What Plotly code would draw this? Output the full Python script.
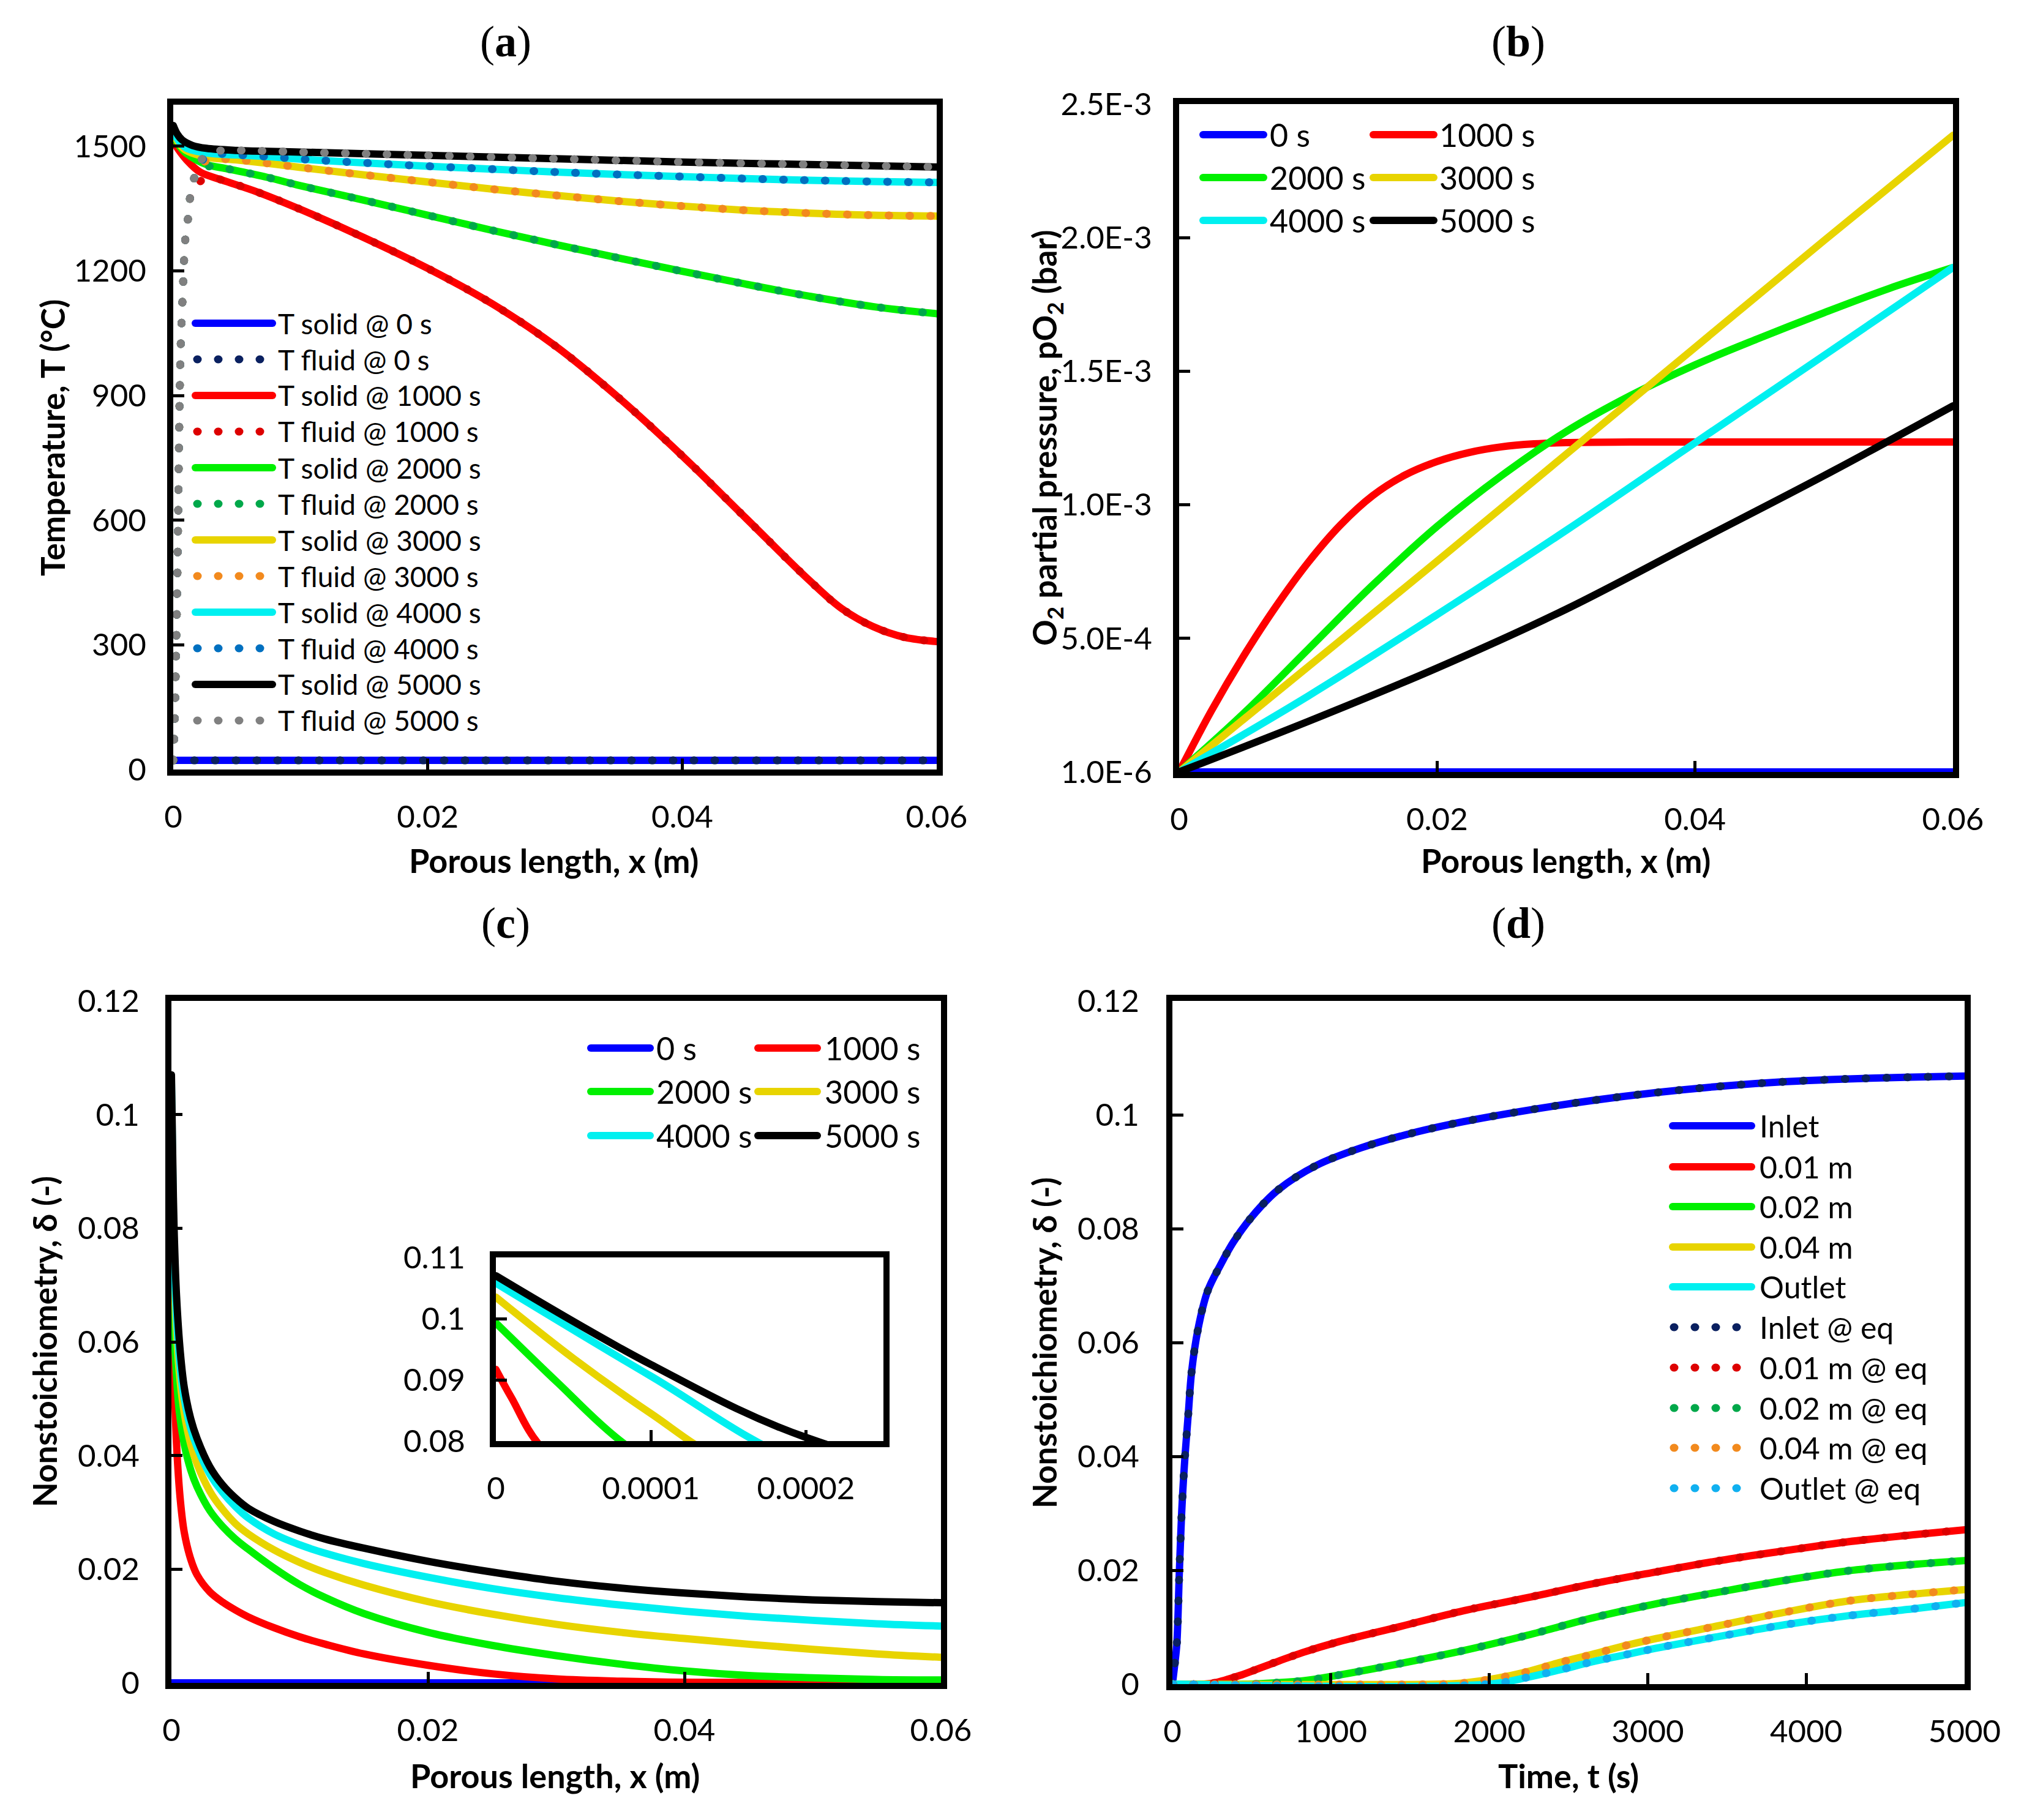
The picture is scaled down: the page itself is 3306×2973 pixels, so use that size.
import plotly.graph_objects as go

W, H = 3306, 2973

# ---------------- (a) temperature along the porous length ----------------
a_x_s0 = [0, 0.06]
a_T_s0 = [22, 22]
a_x_s1000 = [0, 0.0005, 0.00105, 0.0021, 0.0038, 0.0066, 0.01, 0.015, 0.02, 0.025, 0.03,
             0.035, 0.04, 0.045, 0.05, 0.0525, 0.055, 0.0575, 0.06]
a_T_s1000 = [1511, 1488, 1467, 1438, 1419, 1390, 1348, 1280, 1206, 1122, 1020,
             895, 755, 605, 455, 388, 344, 318, 308]
a_x_s2000 = [0, 0.0005, 0.00105, 0.0026, 0.0042, 0.0074, 0.01, 0.015, 0.02, 0.025, 0.03,
             0.035, 0.04, 0.045, 0.05, 0.055, 0.06]
a_T_s2000 = [1526, 1500, 1482, 1456, 1446, 1425, 1405, 1370, 1334, 1298, 1264,
             1231, 1199, 1168, 1139, 1114, 1097]
a_x_s34 = [0, 0.0005, 0.001, 0.0026, 0.005, 0.0074, 0.01, 0.015, 0.02, 0.025, 0.03,
           0.035, 0.04, 0.045, 0.05, 0.055, 0.06]
a_T_s3000 = [1530, 1505, 1490, 1474, 1467, 1459, 1449, 1431, 1414, 1397, 1382,
             1368, 1356, 1346, 1339, 1334, 1332]
a_T_s4000 = [1535, 1510, 1496, 1484, 1479, 1475, 1469, 1460, 1452, 1445, 1438,
             1432, 1427, 1422, 1418, 1415, 1413]
a_x_s5000 = [0, 0.0003, 0.0007, 0.0015, 0.0026, 0.005, 0.01, 0.02, 0.03, 0.04, 0.05, 0.06]
a_T_s5000 = [1550, 1530, 1515, 1502, 1495, 1490, 1486, 1478, 1470, 1462, 1456, 1450]

# fluid heats up from the inlet temperature in the first millimetre, then follows the solid
a_x_rise = [0, 0.0001, 0.0002, 0.0003, 0.00038, 0.00045, 0.00057, 0.00075, 0.00095, 0.00115, 0.0013]
a_T_rise = [22, 100, 250, 420, 600, 780, 1000, 1150, 1277, 1324, 1372]
a_x_j1000, a_T_j1000 = [0.0016, 0.0021, 0.003], [1395, 1415, 1425]
a_x_j2000, a_T_j2000 = [0.0016, 0.0021, 0.003], [1419, 1445, 1452]
a_x_j3000, a_T_j3000 = [0.0016, 0.0021, 0.003], [1419, 1455, 1468]
a_x_j4000, a_T_j4000 = [0.0016, 0.0021, 0.003], [1419, 1460, 1480]
a_x_j5000, a_T_j5000 = [0.0016, 0.0021, 0.0028, 0.0034], [1419, 1464, 1480, 1488]

# ---------------- (b) O2 partial pressure ----------------
b_x_0 = [0, 0.06]
b_p_0 = [1e-6, 1e-6]
b_x_1000 = [0, 0.0025, 0.005, 0.0075, 0.01, 0.0125, 0.015, 0.0175, 0.02, 0.0225, 0.025,
            0.0275, 0.03, 0.035, 0.06]
b_p_1000 = [1e-6, 2.3e-4, 4.35e-4, 6.2e-4, 7.85e-4, 9.25e-4, 1.035e-3, 1.112e-3, 1.163e-3,
            1.197e-3, 1.218e-3, 1.229e-3, 1.234e-3, 1.236e-3, 1.236e-3]
b_x_2000 = [0, 0.005, 0.01, 0.015, 0.02, 0.025, 0.03, 0.035, 0.04, 0.045, 0.05, 0.055, 0.06]
b_p_2000 = [1e-6, 2.2e-4, 4.6e-4, 7.0e-4, 9.2e-4, 1.11e-3, 1.275e-3, 1.41e-3,
            1.525e-3, 1.625e-3, 1.72e-3, 1.81e-3, 1.889e-3]
b_x_rest = [0, 0.01, 0.02, 0.03, 0.04, 0.05, 0.06]
b_p_3000 = [1e-6, 3.95e-4, 7.9e-4, 1.19e-3, 1.59e-3, 1.99e-3, 2.384e-3]
b_p_4000 = [1e-6, 2.85e-4, 5.9e-4, 9.05e-4, 1.233e-3, 1.56e-3, 1.889e-3]
b_p_5000 = [1e-6, 1.9e-4, 3.9e-4, 6.1e-4, 8.6e-4, 1.11e-3, 1.371e-3]

# ---------------- (c) nonstoichiometry along the length ----------------
c_x_0 = [0, 0.06]
c_d_0 = [0, 0]
c_x_1000 = [0, 0.00001, 0.00003, 0.0001, 0.0002, 0.0004, 0.0007, 0.001, 0.0015, 0.002, 0.003,
            0.004, 0.005, 0.006, 0.008, 0.01, 0.012, 0.015, 0.02, 0.025, 0.03, 0.035, 0.04, 0.06]
c_d_1000 = [0.0917, 0.0871, 0.0788, 0.066, 0.055, 0.042, 0.032, 0.0265, 0.0218, 0.019, 0.016,
            0.0142, 0.0128, 0.0116, 0.0097, 0.0081, 0.0068, 0.0051, 0.0031, 0.0016, 0.0007,
            0.0003, 0.0001, 0.0]
c_x_2000 = [0, 0.00004, 0.00008, 0.00015, 0.0003, 0.0006, 0.001, 0.0015, 0.002, 0.003, 0.004,
            0.005, 0.006, 0.008, 0.01, 0.012, 0.015, 0.02, 0.025, 0.03, 0.035, 0.04, 0.045,
            0.05, 0.055, 0.06]
c_d_2000 = [0.0993, 0.0895, 0.0801, 0.0685, 0.058, 0.048, 0.042, 0.0375, 0.0345, 0.0303, 0.0275,
            0.0253, 0.0235, 0.0202, 0.0173, 0.0150, 0.0122, 0.0089, 0.0066, 0.0048, 0.0033,
            0.0021, 0.0013, 0.0009, 0.0006, 0.0005]
c_x_3000 = [0, 0.00005, 0.0001, 0.00015, 0.0003, 0.0006, 0.001, 0.0015, 0.002, 0.003, 0.004,
            0.005, 0.006, 0.008, 0.01, 0.012, 0.015, 0.02, 0.025, 0.03, 0.035, 0.04, 0.045,
            0.05, 0.055, 0.06]
c_d_3000 = [0.1035, 0.0935, 0.0845, 0.0765, 0.066, 0.055, 0.0475, 0.042, 0.0385, 0.0337, 0.0305,
            0.028, 0.0262, 0.0234, 0.0212, 0.0194, 0.0172, 0.0143, 0.0121, 0.0103, 0.0089,
            0.0078, 0.0068, 0.0059, 0.0051, 0.0045]
c_x_45 = [0, 0.0001, 0.0002, 0.0004, 0.0007, 0.001, 0.0015, 0.002, 0.003, 0.004, 0.005,
          0.006, 0.008, 0.01, 0.012, 0.015, 0.02, 0.025, 0.03, 0.035, 0.04, 0.045, 0.05,
          0.055, 0.06]
c_d_4000 = [0.1058, 0.0906, 0.0761, 0.064, 0.055, 0.05, 0.0448, 0.0415, 0.0367, 0.0335, 0.031,
            0.029, 0.0262, 0.0243, 0.0228, 0.021, 0.0186, 0.0166, 0.015, 0.0137, 0.0126,
            0.0117, 0.011, 0.0104, 0.0100]
c_d_5000 = [0.107, 0.0925, 0.0806, 0.068, 0.058, 0.052, 0.0465, 0.043, 0.038, 0.0348, 0.0325,
            0.0307, 0.0284, 0.0267, 0.0253, 0.0237, 0.0214, 0.0195, 0.0179, 0.0167, 0.0158,
            0.0151, 0.0146, 0.0143, 0.0141]

# ---------------- (d) nonstoichiometry over time ----------------
d_t_in = [0, 15, 28, 44, 61, 81, 101, 121, 162, 222, 303, 384, 505, 667, 909, 1192, 1516,
          1839, 2243, 2648, 3052, 3456, 3860, 4264, 4669, 5000]
d_d_in = [0, 0.0035, 0.0071, 0.0198, 0.0315, 0.0406, 0.0477, 0.0548, 0.0624, 0.069, 0.0736,
          0.0776, 0.0822, 0.0868, 0.0911, 0.0942, 0.0968, 0.0988, 0.1008, 0.1025, 0.1039,
          0.105, 0.1058, 0.1063, 0.1066, 0.1068]
d_t_001 = [0, 200, 263, 424, 627, 829, 1031, 1435, 1839, 2243, 2648, 3052, 3456, 3860, 4264, 4669, 5000]
d_d_001 = [0, 0, 0.0002, 0.0015, 0.0036, 0.0056, 0.0073, 0.0101, 0.0129, 0.0152, 0.0176,
           0.0197, 0.0217, 0.0234, 0.025, 0.0262, 0.0271]
d_t_002 = [0, 500, 627, 829, 1031, 1435, 1839, 2243, 2648, 3052, 3456, 3860, 4264, 4669, 5000]
d_d_002 = [0, 0, 0.0002, 0.0006, 0.0015, 0.0036, 0.0059, 0.0086, 0.0116, 0.0141, 0.0162,
           0.0182, 0.0199, 0.021, 0.0217]
d_t_004 = [0, 1700, 1839, 2041, 2243, 2446, 2648, 2850, 3052, 3456, 3860, 4264, 4669, 5000]
d_d_004 = [0, 0, 0.0002, 0.001, 0.0022, 0.0038, 0.0052, 0.0067, 0.008, 0.0103, 0.0126,
           0.0146, 0.0158, 0.0166]
d_t_out = [0, 2000, 2243, 2446, 2648, 2850, 3052, 3456, 3860, 4264, 4669, 5000]
d_d_out = [0, 0, 0.0012, 0.0025, 0.0039, 0.0051, 0.0063, 0.0084, 0.0104, 0.012, 0.0132, 0.0143]

# tick labels
a_yticks = [0, 300, 600, 900, 1200, 1500]
x_len_ticks = [0, 0.02, 0.04, 0.06]
x_len_labels = ["0", "0.02", "0.04", "0.06"]
b_yticks = [1e-6, 5.01e-4, 1.001e-3, 1.501e-3, 2.001e-3, 2.501e-3]
b_ylabels = ["1.0E-6", "5.0E-4", "1.0E-3", "1.5E-3", "2.0E-3", "2.5E-3"]
delta_ticks = [0, 0.02, 0.04, 0.06, 0.08, 0.1, 0.12]
delta_labels = ["0", "0.02", "0.04", "0.06", "0.08", "0.1", "0.12"]
t_ticks = [0, 1000, 2000, 3000, 4000, 5000]
inset_yticks = [0.08, 0.09, 0.1, 0.11]
inset_xticks = [0, 0.0001, 0.0002]
inset_xlabels = ["0", "0.0001", "0.0002"]

BLUE, RED, GREEN, YELLOW, CYAN, BLACK = "#0000ff", "#ff0000", "#00f000", "#e8d400", "#00f0f0", "#000000"
NAVY, DRED, DGREEN, ORANGE, MBLUE, GRAY = "#0a2060", "#dd0000", "#00a84a", "#f28a1e", "#0070c0", "#808080"
LBLUE = "#10b0f0"
DOT = "1px,33px"

fig = go.Figure()


def line(x, y, color, ax, dotted=False):
    fig.add_trace(go.Scatter(
        x=x, y=y, mode="lines", xaxis="x" + ax, yaxis="y" + ax,
        showlegend=False, hoverinfo="skip",
        line=dict(color=color, width=13 if dotted else 12, dash=DOT if dotted else "solid",
                  shape="spline", smoothing=1.0),
    ))


def fluid(jx, jT, sx, sT):
    last = jx[-1]
    x = a_x_rise + jx + [v for v in sx if v > last]
    T = a_T_rise + jT + [t for v, t in zip(sx, sT) if v > last]
    return x, T


# (a)
line(a_x_s0, a_T_s0, BLUE, "")
line(a_x_s0, a_T_s0, NAVY, "", True)
line(a_x_s1000, a_T_s1000, RED, "")
line(*fluid(a_x_j1000, a_T_j1000, a_x_s1000, a_T_s1000), DRED, "", True)
line(a_x_s2000, a_T_s2000, GREEN, "")
line(*fluid(a_x_j2000, a_T_j2000, a_x_s2000, a_T_s2000), DGREEN, "", True)
line(a_x_s34, a_T_s3000, YELLOW, "")
line(*fluid(a_x_j3000, a_T_j3000, a_x_s34, a_T_s3000), ORANGE, "", True)
line(a_x_s34, a_T_s4000, CYAN, "")
line(*fluid(a_x_j4000, a_T_j4000, a_x_s34, a_T_s4000), MBLUE, "", True)
line(a_x_s5000, a_T_s5000, BLACK, "")
line(*fluid(a_x_j5000, a_T_j5000, a_x_s5000, a_T_s5000), GRAY, "", True)

# (b)
line(b_x_0, b_p_0, BLUE, "2")
line(b_x_1000, b_p_1000, RED, "2")
line(b_x_2000, b_p_2000, GREEN, "2")
line(b_x_rest, b_p_3000, YELLOW, "2")
line(b_x_rest, b_p_4000, CYAN, "2")
line(b_x_rest, b_p_5000, BLACK, "2")

# (c) main and inset
for ax in ("3", "5"):
    line(c_x_0, c_d_0, BLUE, ax)
    line(c_x_1000, c_d_1000, RED, ax)
    line(c_x_2000, c_d_2000, GREEN, ax)
    line(c_x_3000, c_d_3000, YELLOW, ax)
    line(c_x_45, c_d_4000, CYAN, ax)
    line(c_x_45, c_d_5000, BLACK, ax)

# (d)
line(d_t_in, d_d_in, BLUE, "4")
line(d_t_001, d_d_001, RED, "4")
line(d_t_002, d_d_002, GREEN, "4")
line(d_t_004, d_d_004, YELLOW, "4")
line(d_t_out, d_d_out, CYAN, "4")
line(d_t_in, d_d_in, NAVY, "4", True)
line(d_t_001, d_d_001, DRED, "4", True)
line(d_t_002, d_d_002, DGREEN, "4", True)
line(d_t_004, d_d_004, ORANGE, "4", True)
line(d_t_out, d_d_out, LBLUE, "4", True)


def px(x):
    return x / W


def py(y):
    return 1 - y / H


def axis(x0, x1, rng, vals, texts, anchor, standoff):
    return dict(domain=[x0, x1], range=rng, tickmode="array", tickvals=vals, ticktext=texts,
                anchor=anchor, showline=True, linecolor="black", linewidth=10, mirror=True,
                ticks="inside", ticklen=18, tickwidth=5, tickcolor="black", automargin=False,
                showgrid=False, zeroline=False, fixedrange=True, ticklabelstandoff=standoff,
                tickfont=dict(family="Lato", size=51, color="black"))


XS = 24
layout = dict(
    width=W, height=H, autosize=False,
    margin=dict(l=0, r=0, t=0, b=0, pad=0, autoexpand=False),
    paper_bgcolor="white", plot_bgcolor="white",
    font=dict(family="Lato", color="black"),
    xaxis=axis(px(283), px(1530), [0, 0.06], x_len_ticks, x_len_labels, "y", XS),
    yaxis=axis(py(1257), py(171), [0, 1600], a_yticks, [str(v) for v in a_yticks], "x", 24),
    xaxis2=axis(px(1926), px(3190), [0, 0.06], x_len_ticks, x_len_labels, "y2", XS),
    yaxis2=axis(py(1261), py(170), [1e-6, 2.501e-3], b_yticks, b_ylabels, "x2", 24),
    xaxis3=axis(px(280), px(1537), [0, 0.06], x_len_ticks, x_len_labels, "y3", XS),
    yaxis3=axis(py(2749), py(1635), [0, 0.12], delta_ticks, delta_labels, "x3", 32),
    xaxis4=axis(px(1915), px(3209), [0, 5000], t_ticks, [str(v) for v in t_ticks], "y4", XS),
    yaxis4=axis(py(2751), py(1635), [0, 0.12], delta_ticks, delta_labels, "x4", 34),
    xaxis5=axis(px(810), px(1443), [0, 0.00025], inset_xticks, inset_xlabels, "y5", XS),
    yaxis5=axis(py(2354), py(2054), [0.08, 0.11], inset_yticks, ["0.08", "0.09", "0.1", "0.11"], "x5", 30),
)
fig.update_layout(**layout)

shapes, annos = [], []


def text(x, y, s, size, anchor="left", angle=0, family="Lato"):
    annos.append(dict(x=px(x), y=py(y), xref="paper", yref="paper", text=s, showarrow=False,
                      xanchor=anchor, yanchor="middle", textangle=angle,
                      font=dict(family=family, size=size, color="black")))


def sample(x0, x1, y, color, dotted):
    shapes.append(dict(type="line", xref="paper", yref="paper",
                       x0=px(x0), x1=px(x1), y0=py(y), y1=py(y),
                       line=dict(color=color, width=13 if dotted else 12,
                                 dash=DOT if dotted else "solid")))


# panel titles
for lbl, cx, cy in (("a", 826, 68), ("b", 2480, 68), ("c", 826, 1508), ("d", 2480, 1508)):
    text(cx, cy, "(<b>%s</b>)" % lbl, 72, "center", family="Liberation Serif")

# axis titles
text(904, 1405, "<b>Porous length, x (m)</b>", 54, "center")
text(2557, 1405, "<b>Porous length, x (m)</b>", 54, "center")
text(906, 2900, "<b>Porous length, x (m)</b>", 54, "center")
text(2562, 2900, "<b>Time, t (s)</b>", 54, "center")
text(86, 715, "<b>Temperature, T (°C)</b>", 53, "center", -90)
text(1710, 715, "<b>O<sub>2</sub> partial pressure, pO<sub>2</sub> (bar)</b>", 53, "center", -90)
text(72, 2192, "<b>Nonstoichiometry, δ (-)</b>", 53, "center", -90)
text(1705, 2194, "<b>Nonstoichiometry, δ (-)</b>", 53, "center", -90)

# legend (a)
a_leg = [("T solid @ 0 s", BLUE, False), ("T fluid @ 0 s", NAVY, True),
         ("T solid @ 1000 s", RED, False), ("T fluid @ 1000 s", DRED, True),
         ("T solid @ 2000 s", GREEN, False), ("T fluid @ 2000 s", DGREEN, True),
         ("T solid @ 3000 s", YELLOW, False), ("T fluid @ 3000 s", ORANGE, True),
         ("T solid @ 4000 s", CYAN, False), ("T fluid @ 4000 s", MBLUE, True),
         ("T solid @ 5000 s", BLACK, False), ("T fluid @ 5000 s", GRAY, True)]
for i, (name, col, dotted) in enumerate(a_leg):
    y = 528 + i * 59
    if dotted:
        sample(322, 425, y, col, True)
    else:
        sample(319, 445, y, col, False)
    text(452, y, name, 46)

# legend (b) and (c): two columns
times = [("0 s", BLUE), ("1000 s", RED), ("2000 s", GREEN),
         ("3000 s", YELLOW), ("4000 s", CYAN), ("5000 s", BLACK)]
for i, (name, col) in enumerate(times):
    r, c = divmod(i, 2)
    # (b)
    y = [220, 290, 360][r]
    s0, s1, tx = [(1965, 2064, 2072), (2243, 2342, 2349)][c]
    sample(s0, s1, y, col, False)
    text(tx, y, name, 52)
    # (c)
    y = [1712, 1783, 1855][r]
    s0, s1, tx = [(965, 1062, 1070), (1238, 1335, 1345)][c]
    sample(s0, s1, y, col, False)
    text(tx, y, name, 52)

# legend (d)
d_leg = [("Inlet", BLUE, False), ("0.01 m", RED, False), ("0.02 m", GREEN, False),
         ("0.04 m", YELLOW, False), ("Outlet", CYAN, False),
         ("Inlet @ eq", NAVY, True), ("0.01 m @ eq", DRED, True), ("0.02 m @ eq", DGREEN, True),
         ("0.04 m @ eq", ORANGE, True), ("Outlet @ eq", LBLUE, True)]
d_rows = [1839, 1906, 1971, 2037, 2102, 2168, 2234, 2300, 2365, 2431]
for (name, col, dotted), y in zip(d_leg, d_rows):
    if dotted:
        sample(2734, 2837, y, col, True)
    else:
        sample(2732, 2861, y, col, False)
    text(2872, y, name, 50)

fig.update_layout(shapes=shapes, annotations=annos)

css = ("body{margin:0!important}"
       ".js-line,.shapelayer path{stroke-linecap:round!important;"
       "stroke-linejoin:round!important}")
post = ("var s=document.createElement('style');s.innerHTML='%s';"
        "document.head.appendChild(s);" % css)
fig.write_html("out.html", post_script=post, config={"displayModeBar": False})
